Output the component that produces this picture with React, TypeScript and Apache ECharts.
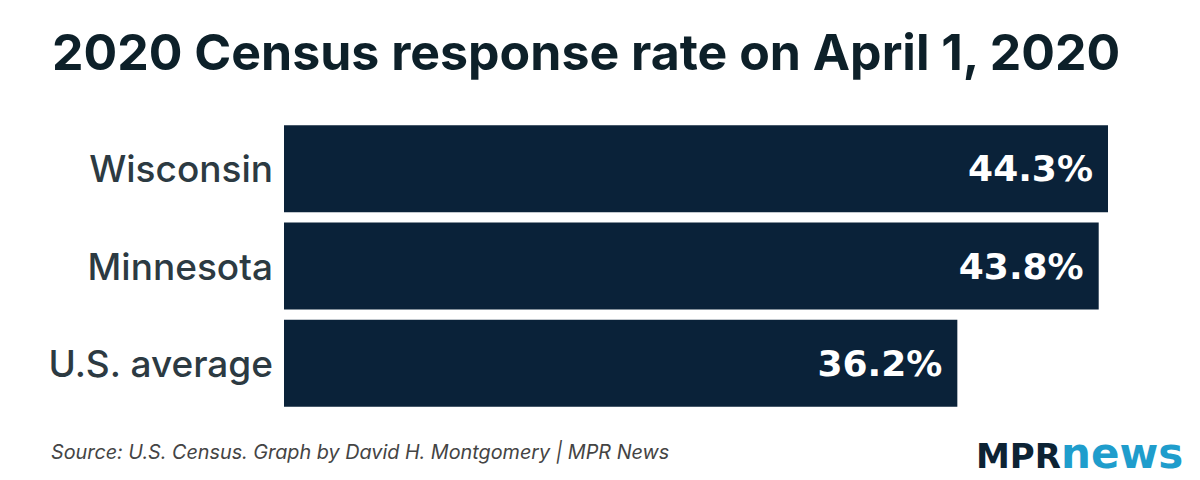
import React, { useEffect, useRef } from "react";
import * as echarts from "echarts";

const categories = ["Wisconsin", "Minnesota", "U.S. average"];
const values = [44.3, 43.8, 36.2];
const titleText = "2020 Census response rate on April 1, 2020";
const sourceText = "Source: U.S. Census. Graph by David H. Montgomery | MPR News";

export default function App() {
  const ref = useRef<HTMLDivElement>(null);
  useEffect(() => {
    document.body.style.margin = "0";
    const chart = echarts.init(ref.current!, null, { renderer: "svg" });
    chart.setOption({
      animation: false,
      backgroundColor: "#ffffff",
      grid: { left: 284, right: 92, top: 120, bottom: 68, containLabel: false },
      xAxis: {
        type: "value",
        min: 0,
        max: 44.3,
        show: false,
      },
      yAxis: {
        type: "category",
        inverse: true,
        data: categories,
        axisLine: { show: false },
        axisTick: { show: false },
        splitLine: { show: false },
        axisLabel: {
          margin: 11,
          color: "#2c3a42",
          fontFamily: "Inter",
          fontWeight: 500,
          fontSize: 37,
        },
      },
      series: [
        {
          type: "bar",
          data: values,
          barWidth: 87,
          itemStyle: { color: "#0a2239" },
          label: {
            show: true,
            position: "insideRight",
            distance: 15,
            formatter: (p: any) => p.value.toFixed(1) + "%",
            color: "#ffffff",
            fontFamily: "DejaVu Sans",
            fontWeight: "bold",
            fontSize: 36,
          },
        },
      ],
      graphic: [
        {
          type: "text",
          x: 52,
          y: 52,
          style: {
            text: titleText,
            fill: "#0d2029",
            font: "700 50px Inter",
            verticalAlign: "middle",
            align: "left",
          },
        },
        {
          type: "text",
          x: 51,
          y: 452,
          style: {
            text: sourceText,
            fill: "#444444",
            font: "italic 400 19.8px Inter",
            verticalAlign: "middle",
            align: "left",
          },
        },
        {
          type: "text",
          x: 976,
          y: 456,
          style: {
            text: "MPR",
            fill: "#0d2334",
            font: "bold 34px 'DejaVu Sans'",
            verticalAlign: "middle",
            align: "left",
          },
        },
        {
          type: "text",
          x: 1061,
          y: 453,
          style: {
            text: "news",
            fill: "#1f9dcc",
            font: "bold 42px 'DejaVu Sans'",
            verticalAlign: "middle",
            align: "left",
          },
        },
      ],
    });
    return () => chart.dispose();
  }, []);
  return <div ref={ref} style={{ width: 1200, height: 480 }} />;
}
